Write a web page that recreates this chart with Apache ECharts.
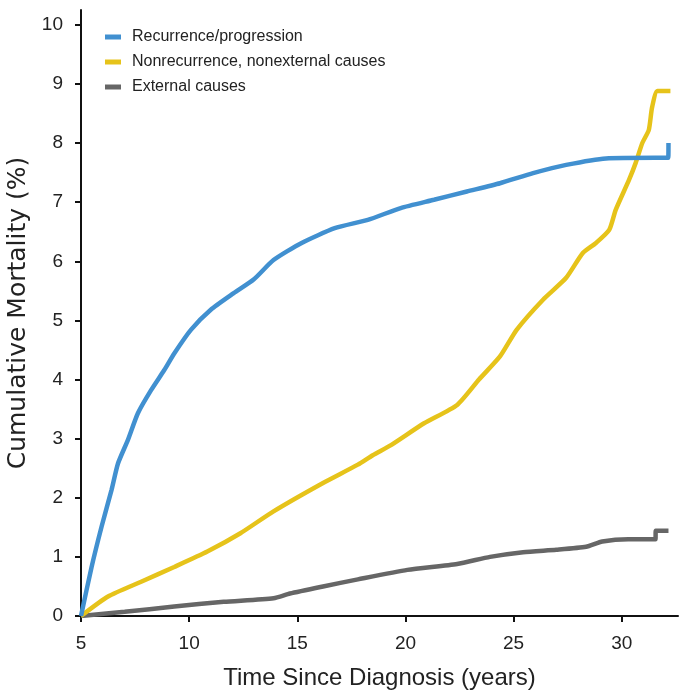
<!DOCTYPE html>
<html>
<head>
<meta charset="utf-8">
<script src="https://cdn.jsdelivr.net/npm/echarts@6/dist/echarts.min.js"></script>
<style>
html,body{margin:0;padding:0;background:#fff;}
#chart{width:685px;height:695px;}
</style>
</head>
<body>
<div id="chart"></div>
<script>
const seriesNames = ['Recurrence/progression', 'Nonrecurrence, nonexternal causes', 'External causes'];
const xTicks = [5, 10, 15, 20, 25, 30];
const yTicks = [0, 1, 2, 3, 4, 5, 6, 7, 8, 9, 10];

const recurrenceTime = [5, 5.49, 5.95, 6.41, 6.71, 7.17, 7.63, 8.24, 8.85, 9.31, 10.08, 11.0, 12.06, 12.98, 13.9, 15.2, 16.73, 18.26, 19.78, 21.32, 22.84, 24.37, 25.9, 27.43, 29.27, 31.56, 32.15, 32.16];
const recurrenceValue = [0, 0.83, 1.51, 2.13, 2.58, 2.98, 3.43, 3.82, 4.16, 4.44, 4.84, 5.18, 5.46, 5.69, 6.02, 6.31, 6.56, 6.70, 6.90, 7.04, 7.18, 7.32, 7.49, 7.63, 7.74, 7.75, 7.75, 8.0];

const nonrecTime = [5, 6.25, 7.78, 9.31, 10.84, 12.37, 13.9, 16.19, 17.8, 18.49, 19.33, 20.86, 22.39, 23.4, 24.37, 25.14, 26.36, 27.43, 28.2, 28.81, 29.42, 29.72, 30.34, 30.64, 30.95, 31.25, 31.4, 31.65, 32.25];
const nonrecValue = [0, 0.33, 0.58, 0.83, 1.09, 1.40, 1.77, 2.25, 2.56, 2.72, 2.89, 3.26, 3.57, 4.0, 4.39, 4.84, 5.35, 5.72, 6.14, 6.31, 6.53, 6.87, 7.38, 7.66, 8.0, 8.22, 8.6, 8.88, 8.88];

const externalTime = [5, 7.02, 9.31, 11.6, 13.9, 14.66, 16.19, 17.8, 20.09, 22.39, 23.91, 25.44, 26.97, 28.35, 29.1, 30.3, 31.56, 31.57, 32.16];
const externalValue = [0, 0.07, 0.16, 0.24, 0.30, 0.38, 0.50, 0.62, 0.78, 0.88, 1.0, 1.08, 1.12, 1.17, 1.26, 1.30, 1.30, 1.44, 1.44];

function pairs(t, v) { return t.map((x, i) => [x, v[i]]); }

const colors = ['#4190d0', '#e6c31a', '#666666'];
const tickFont = 'Liberation Sans Narrow, Liberation Sans, sans-serif';
const chart = echarts.init(document.getElementById('chart'));
chart.setOption({
  animation: false,
  backgroundColor: '#ffffff',
  grid: { left: 81, right: 7, top: 10, bottom: 79, outerBoundsMode: 'none', containLabel: false },
  legend: {
    orient: 'vertical',
    left: 100,
    top: 24,
    itemWidth: 16,
    itemHeight: 5,
    itemGap: 9,
    icon: 'rect',
    data: seriesNames,
    textStyle: { fontFamily: tickFont, fontSize: 16, color: '#222', padding: [0, 0, 0, 6] }
  },
  xAxis: {
    type: 'value',
    min: 5,
    max: 32.6,
    name: 'Time Since Diagnosis (years)',
    nameLocation: 'middle',
    nameGap: 50,
    nameTextStyle: { fontFamily: tickFont, fontSize: 24, color: '#222' },
    axisLine: { show: true, lineStyle: { color: '#111', width: 2 } },
    axisTick: { show: true, length: 6, customValues: xTicks, lineStyle: { color: '#111', width: 2 } },
    axisLabel: { customValues: xTicks, margin: 18, fontFamily: tickFont, fontSize: 19, color: '#222' },
    splitLine: { show: false }
  },
  yAxis: {
    type: 'value',
    min: 0,
    max: 10.25,
    name: 'Cumulative Mortality (%)',
    nameLocation: 'middle',
    nameGap: 44,
    nameTextStyle: { fontFamily: 'DejaVu Sans, sans-serif', fontSize: 25, color: '#222' },
    axisLine: { show: true, lineStyle: { color: '#111', width: 2 } },
    axisTick: { show: true, length: 6, customValues: yTicks, lineStyle: { color: '#111', width: 2 } },
    axisLabel: { customValues: yTicks, margin: 18, fontFamily: tickFont, fontSize: 19, color: '#222' },
    splitLine: { show: false }
  },
  series: [
    { name: seriesNames[0], type: 'line', data: pairs(recurrenceTime, recurrenceValue), showSymbol: false, smooth: 0.2, lineStyle: { color: colors[0], width: 4.5 }, itemStyle: { color: colors[0] }, z: 3 },
    { name: seriesNames[1], type: 'line', data: pairs(nonrecTime, nonrecValue), showSymbol: false, smooth: 0.2, lineStyle: { color: colors[1], width: 4.5 }, itemStyle: { color: colors[1] }, z: 2 },
    { name: seriesNames[2], type: 'line', data: pairs(externalTime, externalValue), showSymbol: false, smooth: 0.2, lineStyle: { color: colors[2], width: 4.5 }, itemStyle: { color: colors[2] }, z: 1 }
  ]
});
</script>
</body>
</html>
